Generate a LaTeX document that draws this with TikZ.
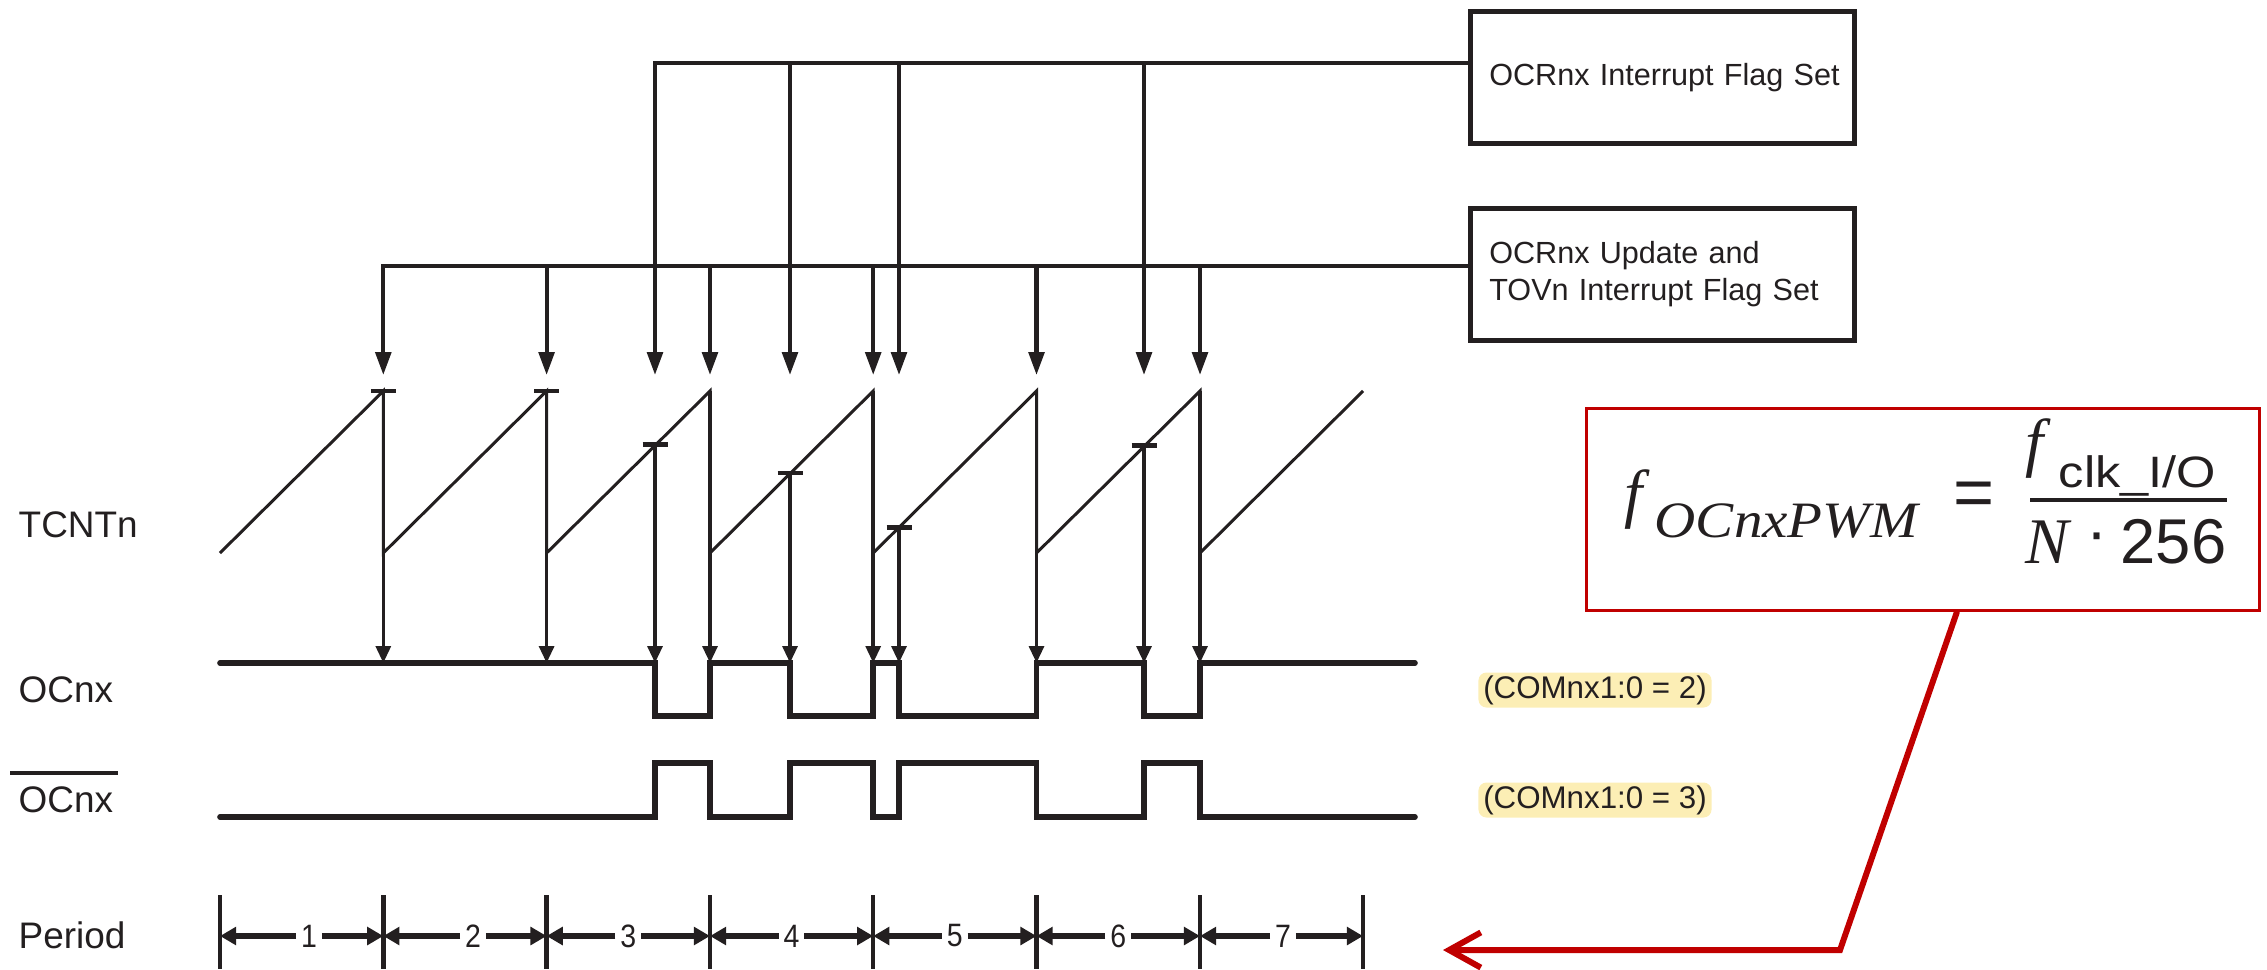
\documentclass[tikz,border=0pt]{standalone}
\usepackage{fontspec}
\usepackage{graphicx}
\setmainfont{Liberation Sans}
\newfontfamily\tms{Liberation Serif}
\usetikzlibrary{arrows.meta}
\definecolor{ink}{RGB}{35,31,32}
\definecolor{redc}{RGB}{192,0,0}
\definecolor{hl}{RGB}{252,238,181}
\newcommand{\fsz}[1]{\fontsize{#1}{#1}\selectfont}
\begin{document}
\begin{tikzpicture}[x=0.01cm,y=-0.01cm, line join=miter, ink,
  flagbox/.style={draw=ink, line width=1.3pt, minimum width=3.84cm, minimum height=1.32cm,
    inner xsep=0.14cm, inner ysep=0pt, text width=3.56cm, align=left, anchor=north west},
  bus/.style={line width=1.15pt},
  darr/.style={line width=1.15pt, -{Triangle[length=6.5pt,width=4.4pt]}},
  oarr/.style={line width=1pt, -{Triangle[length=4.8pt,width=4.2pt]}},
  ramp/.style={line width=0.85pt},
  cmp/.style={line width=1.3pt},
  wave/.style={line width=1.6pt, line cap=round},
  sig/.style={font=\fsz{10.5}, anchor=west, inner sep=0},
  ptick/.style={line width=1.3pt},
  parr/.style={line width=1.6pt, -{Triangle[length=4.6pt,width=5pt]}},
  pnum/.style={font=\fsz{9.2}, inner sep=1.2pt},
  com/.style={fill=hl, rounded corners=0.08cm, minimum width=2.33cm, minimum height=0.35cm,
    inner sep=0, font=\fsz{8.9}},
  fpart/.style={inner sep=0, anchor=base west},
]
\useasboundingbox (0,0) rectangle (2267,969);

% flag boxes
\node[flagbox, font=\fsz{8.7}] (ocf) at (1468,9) {\hspace*{0.05cm}OCRnx Interrupt Flag Set};
\node[flagbox, font=\fontsize{8.7}{10.5}\selectfont] (tov) at (1468,206) {\hspace*{0.05cm}OCRnx Update and\\\hspace*{0.05cm}TOVn Interrupt Flag Set};

% buses and arrows
\coordinate (ocrbus) at (655,63);
\coordinate (tovbus) at (383.3,266);
\draw[darr] (tovbus -| tov.west) -- (tovbus) -- (383.3,375);
\foreach \x in {546.6,710,873.2,1036.5,1200} \draw[darr] (\x,266) -- (\x,375);
\draw[darr] (ocrbus -| ocf.west) -- (ocrbus) -- (655,375);
\foreach \x in {790,899,1144} \draw[darr] (\x,63) -- (\x,375);

% TCNTn sawtooth
\draw[ramp] (220,553) -- (383.3,391) -- (383.3,553) -- (546.6,391) -- (546.6,553)
  -- (710,391) -- (710,553) -- (873.2,391) -- (873.2,553) -- (1036.5,391)
  -- (1036.5,553) -- (1200,391) -- (1200,553) -- (1363,391);

% arrows down to OCnx
\foreach \x in {383.3,546.6,710,873.2,1036.5,1200} \draw[oarr] (\x,391) -- (\x,663);
\foreach \x/\y in {655/444.6, 790/473, 899/527.2, 1144/445.5} \draw[oarr] (\x,\y) -- (\x,663);
% compare marks
\foreach \x/\y in {383.3/391, 546.6/391, 655/444.6, 790/473, 899/527.2, 1144/445.5}
  \draw[cmp] (\x-12.5,\y) -- (\x+12.5,\y);

% waveforms
\draw[wave] (220,663) -- (655,663) -- (655,716) -- (710,716) -- (710,663) -- (790,663)
  -- (790,716) -- (873.2,716) -- (873.2,663) -- (899,663) -- (899,716) -- (1036.5,716)
  -- (1036.5,663) -- (1144,663) -- (1144,716) -- (1200,716) -- (1200,663) -- (1415,663);
\draw[wave] (220,817) -- (655,817) -- (655,763) -- (710,763) -- (710,817) -- (790,817)
  -- (790,763) -- (873.2,763) -- (873.2,817) -- (899,817) -- (899,763) -- (1036.5,763)
  -- (1036.5,817) -- (1144,817) -- (1144,763) -- (1200,763) -- (1200,817) -- (1415,817);

% signal labels
\node[sig] (tcnt) at (18,525) {TCNTn};
\node[sig] (oc) at (18,690) {OCnx};
\node[sig] (ocb) at (18,800) {OCnx};
\draw[line width=0.95pt] (10,773) -- (118,773);
\node[sig] (per) at (18,935) {Period};

% period ruler
\foreach \x in {220,383.3,546.6,710,873.2,1036.5,1200,1363} \draw[ptick] (\x,895) -- (\x,969);
\node[pnum] (p1) at (309,936) {\scalebox{0.88}[1]{1}\hspace{5pt}};
\node[pnum] (p2) at (473,936) {\scalebox{0.88}[1]{2}\hspace{5pt}};
\node[pnum] (p3) at (628.3,936) {\scalebox{0.88}[1]{3}};
\node[pnum] (p4) at (791.6,936) {\scalebox{0.88}[1]{4}};
\node[pnum] (p5) at (954.8,936) {\scalebox{0.88}[1]{5}};
\node[pnum] (p6) at (1118.2,936) {\scalebox{0.88}[1]{6}};
\node[pnum] (p7) at (1283,936) {\scalebox{0.88}[1]{7}\hspace{2pt}};
\foreach \i/\a/\b in {1/220/383.3, 2/383.3/546.6, 3/546.6/710, 4/710/873.2, 5/873.2/1036.5, 6/1036.5/1200, 7/1200/1363} {
  \draw[parr] (p\i.west) -- (\a,936);
  \draw[parr] (p\i.east) -- (\b,936);
}

% COM labels
\node[com] (com2) at (1595,690) {(COMnx1:0 = 2)};
\node[com] (com3) at (1595,800) {(COMnx1:0 = 3)};

% formula box
\node[draw=redc, line width=0.85pt, minimum width=6.72cm, minimum height=2.01cm, inner sep=0] (fbox) at (1923,509.5) {};
\node[fpart, font=\fsz{18.5}\tms\itshape] (f1) at (1624,515) {f};
\node[fpart, font=\fsz{14.5}\tms\itshape] (fsub) at (1654,537) {\scalebox{1.12}[1]{OCnxPWM}};
\node[inner sep=0, font=\fsz{20}] (eq) at (1974,499) {=};
\draw[line width=0.9pt] (2030,500) -- (2227,500);
\node[fpart, font=\fsz{18.5}\tms\itshape] (f2) at (2025,464) {f};
\node[fpart, font=\fsz{12.5}] (clk) at (2058,487) {\scalebox{1.15}[1]{clk\_I/O}};
\node[fpart, font=\fsz{18.5}\tms\itshape] (nn) at (2025,563) {N};
\node[inner sep=0, font=\fsz{18}] (cdot) at (2097,543) {·};
\node[inner sep=0, anchor=base east, font=\fsz{18}] (n256) at (2227,563) {256};

% red connector
\coordinate (rc) at (1840,950);
\coordinate (rt) at (1443,950);
\draw[redc, line width=1.7pt, -{Straight Barb[length=9pt,width=10pt]}] ([xshift=0.34cm]fbox.south) -- (rc) -- (rt);
\end{tikzpicture}
\end{document}
